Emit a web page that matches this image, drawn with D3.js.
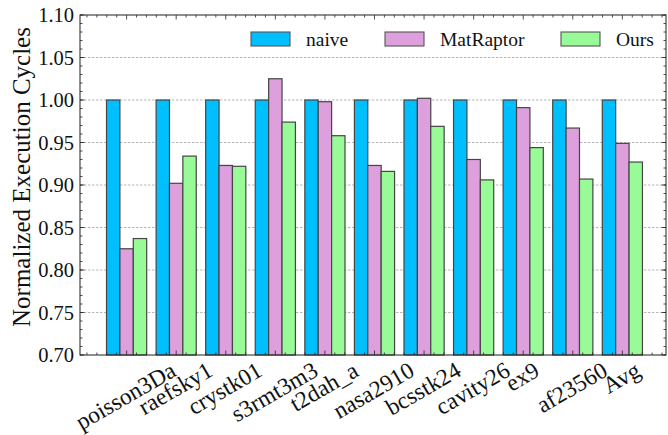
<!DOCTYPE html>
<html>
<head>
<meta charset="utf-8">
<script src="https://cdn.jsdelivr.net/npm/d3@7"></script>
<style>
  html, body { margin: 0; padding: 0; background: #fff; }
  svg { display: block; }
  svg text { font-family: 'Liberation Serif', 'Times New Roman', Times, serif; }
</style>
</head>
<body>
<svg id="chart" width="668" height="435"></svg>
<script>
// Benchmarks (x categories)
const categories = ["poisson3Da", "raefsky1", "crystk01", "s3rmt3m3", "t2dah_a",
  "nasa2910", "bcsstk24", "cavity26", "ex9", "af23560", "Avg"];

// Normalized execution cycles per design
const naive     = [1.000, 1.000, 1.000, 1.000, 1.000, 1.000, 1.000, 1.000, 1.000, 1.000, 1.000];
const matRaptor = [0.825, 0.902, 0.923, 1.025, 0.998, 0.923, 1.002, 0.930, 0.991, 0.967, 0.949];
const ours      = [0.837, 0.934, 0.922, 0.974, 0.958, 0.916, 0.969, 0.906, 0.944, 0.907, 0.927];

const seriesNames = ["naive", "MatRaptor", "Ours"];
const seriesColors = ["#00bfff", "#dda0dd", "#98fb98"];
const seriesValues = [naive, matRaptor, ours];

const yTicks = [0.70, 0.75, 0.80, 0.85, 0.90, 0.95, 1.00, 1.05, 1.10];
const yLabel = "Normalized Execution Cycles";

const FONT = "'Liberation Serif', 'Times New Roman', Times, serif";
const svg = d3.select("#chart").attr("font-family", FONT);
const plot = { left: 80, right: 666, top: 15, bottom: 355 };

const x = d3.scaleLinear().domain([-0.94, 10.88]).range([plot.left, plot.right]);
const y = d3.scaleLinear().domain([0.70, 1.10]).range([plot.bottom, plot.top]);
const barW = 0.27;
const bw = x(barW) - x(0);

// Dashed horizontal grid at the major y ticks
svg.append("g").selectAll("line").data(yTicks.slice(1, -1)).join("line")
  .attr("x1", plot.left).attr("x2", plot.right)
  .attr("y1", d => y(d)).attr("y2", d => y(d))
  .attr("stroke", "#b0b0b0").attr("stroke-width", 0.9)
  .attr("stroke-dasharray", "2.5,1.5");

// Bars
const bars = svg.append("g");
seriesValues.forEach((vals, s) => {
  bars.append("g").selectAll("rect").data(vals).join("rect")
    .attr("x", (d, i) => x(i + (s - 1) * barW) - bw / 2)
    .attr("width", bw)
    .attr("y", d => y(d))
    .attr("height", d => y(0.70) - y(d))
    .attr("fill", seriesColors[s])
    .attr("stroke", "#454545")
    .attr("stroke-width", 1.2);
});

// Axes: ticks drawn inward on all four sides
const axisG = svg.append("g");
const tickColor = "#222";
const yMinor = d3.range(0.70, 1.1001, 0.01);
const xMinor = d3.range(-0.8, 10.81, 0.2).filter(v => Math.abs(v - Math.round(v)) > 1e-6);
const xMajor = d3.range(0, 11);

function tickLines(data, fn) {
  axisG.append("g").selectAll("line").data(data).join("line")
    .each(function (d) { const a = fn(d); d3.select(this).attr("x1", a[0]).attr("y1", a[1]).attr("x2", a[2]).attr("y2", a[3]); })
    .attr("stroke", tickColor).attr("stroke-width", 0.8);
}
tickLines(yMinor, d => [plot.left, y(d), plot.left + 2.5, y(d)]);
tickLines(yTicks, d => [plot.left, y(d), plot.left + 4.5, y(d)]);
tickLines(yMinor, d => [plot.right, y(d), plot.right - 2.5, y(d)]);
tickLines(yTicks, d => [plot.right, y(d), plot.right - 4.5, y(d)]);
tickLines(xMinor, d => [x(d), plot.bottom, x(d), plot.bottom - 2.5]);
tickLines(xMajor, d => [x(d), plot.bottom, x(d), plot.bottom - 4.5]);
tickLines(xMinor, d => [x(d), plot.top, x(d), plot.top + 2.5]);
tickLines(xMajor, d => [x(d), plot.top, x(d), plot.top + 4.5]);

axisG.append("rect")
  .attr("x", plot.left).attr("y", plot.top)
  .attr("width", plot.right - plot.left).attr("height", plot.bottom - plot.top)
  .attr("fill", "none").attr("stroke", "#333").attr("stroke-width", 1.1);

// Y tick labels
svg.append("g").selectAll("text").data(yTicks).join("text")
  .attr("x", plot.left - 6).attr("y", d => y(d))
  .attr("text-anchor", "end").attr("dominant-baseline", "central")
  .attr("font-family", FONT)
  .attr("font-size", 20.5).attr("fill", "#111")
  .text(d => d.toFixed(2));

// Y axis title
svg.append("text")
  .attr("transform", `translate(30, ${(plot.top + plot.bottom) / 2 - 8}) rotate(-90)`)
  .attr("text-anchor", "middle")
  .attr("font-family", FONT)
  .attr("font-size", 25).attr("fill", "#111")
  .text(yLabel);

// X tick labels, rotated 30 degrees, bounding box centred under each group
const angle = 30 * Math.PI / 180;
const xl = svg.append("g").selectAll("text").data(categories).join("text")
  .attr("text-anchor", "middle").attr("dominant-baseline", "central")
  .attr("font-family", FONT)
  .attr("font-size", 23.5).attr("fill", "#111")
  .text(d => d);
xl.each(function (d, i) {
  const b = this.getBBox();
  const H = b.width * Math.sin(angle) + b.height * 0.8 * Math.cos(angle);
  d3.select(this).attr("transform", `translate(${x(i) - 1}, ${plot.bottom + 4 + H / 2}) rotate(-30)`);
});

// Legend
const legendX = [251, 385, 561];
const lg = svg.append("g");
seriesNames.forEach((name, s) => {
  lg.append("rect")
    .attr("x", legendX[s]).attr("y", 32).attr("width", 39).attr("height", 14)
    .attr("fill", seriesColors[s]).attr("stroke", "#555").attr("stroke-width", 1.1);
  lg.append("text")
    .attr("x", legendX[s] + 55).attr("y", 39)
    .attr("dominant-baseline", "central")
    .attr("font-family", FONT)
    .attr("font-size", 19.5).attr("fill", "#111")
    .text(name);
});
</script>
</body>
</html>
